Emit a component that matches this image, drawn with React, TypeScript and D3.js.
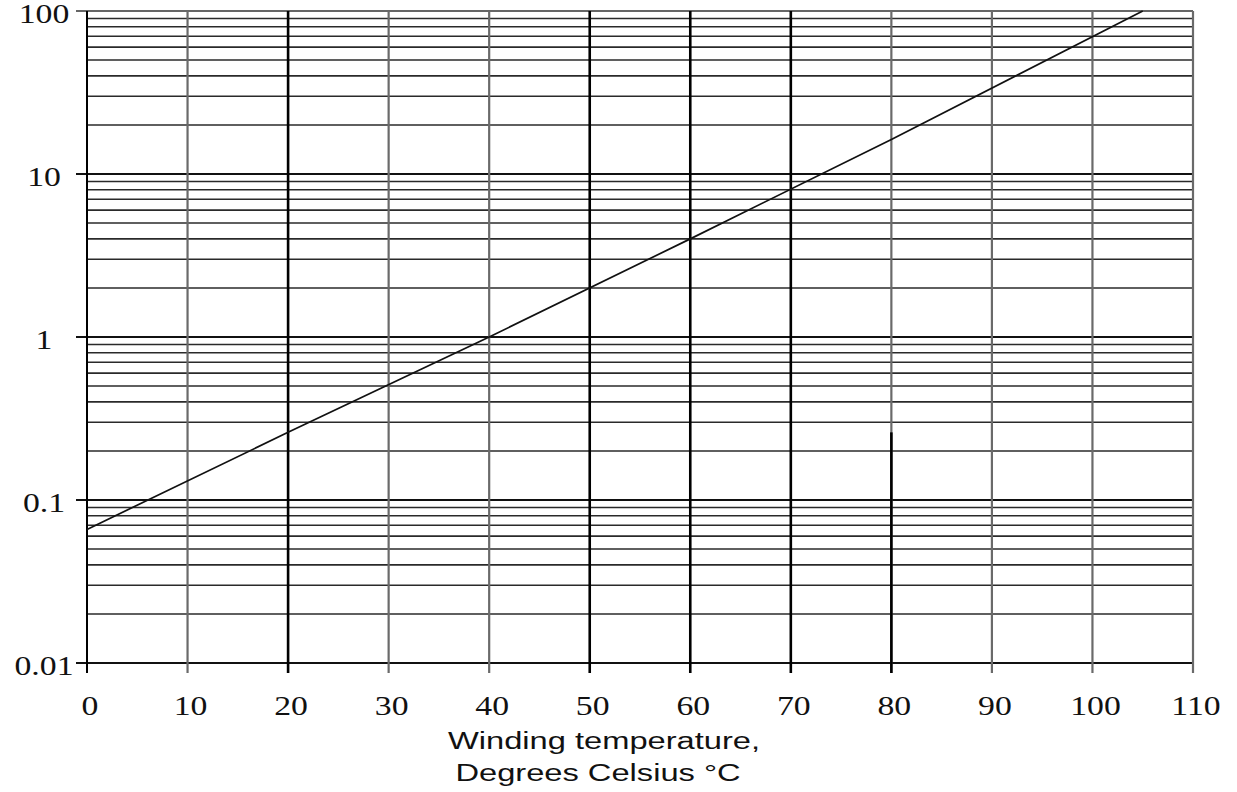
import React from 'react';
import * as d3 from 'd3';

// x axis: winding temperature, °C
const xTicks = [0, 10, 20, 30, 40, 50, 60, 70, 80, 90, 100, 110];
// y axis: log decades and their labels
const yDecades = [0.01, 0.1, 1, 10, 100];
const yLabels = ['0.01', '0.1', '1', '10', '100'];
// curve (temperature, value)
const curveT = [0, 20, 40, 60, 80, 105];
const curveV = [0.066, 0.26, 1.0, 4.0, 16.3, 100];

const width = 1237;
const height = 792;
const margin = { top: 11, right: 44, bottom: 129, left: 87 };

const heavyX = [0, 20, 50, 60, 70];

export default function App() {
  const innerW = width - margin.left - margin.right;
  const innerH = height - margin.top - margin.bottom;

  const x = d3.scaleLinear().domain([0, 110]).range([margin.left, margin.left + innerW]);
  const y = d3.scaleLog().domain([0.01, 100]).range([margin.top + innerH, margin.top]);

  // minor grid: 2..9 in each decade
  const minor: number[] = [];
  yDecades.slice(0, -1).forEach((d) => {
    for (let k = 2; k <= 9; k++) minor.push(+(d * k).toPrecision(3));
  });

  const line = d3
    .line<number>()
    .x((_, i) => x(curveT[i]))
    .y((v) => y(v));

  const x0 = x(0);
  const x1 = x(110);
  const yb = y(0.01);
  const yt = y(100);

  const serif = "'Liberation Serif', 'DejaVu Serif', serif";
  const sans = "'Liberation Sans', Arial, sans-serif";

  return (
    <svg width={width} height={height} style={{ position: 'absolute', left: 0, top: 0, background: '#fff' }}>
      {/* horizontal grid */}
      {minor.map((v) => (
        <line key={'m' + v} x1={x0} x2={x1} y1={y(v)} y2={y(v)} stroke="#2a2a2a" strokeWidth={1.6} />
      ))}
      {yDecades.map((v) => (
        <line key={'d' + v} x1={x0 - 11} x2={x1} y1={y(v)} y2={y(v)} stroke={v === 100 ? '#666' : '#111'} strokeWidth={2} />
      ))}

      {/* vertical grid */}
      {xTicks.map((t) => {
        const heavy = heavyX.includes(t);
        return (
          <line
            key={'v' + t}
            x1={x(t)}
            x2={x(t)}
            y1={yt}
            y2={yb + 10}
            stroke={heavy ? '#000' : '#6a6a6a'}
            strokeWidth={heavy ? (t === 0 ? 2 : 2.6) : 2.2}
          />
        );
      })}
      <line x1={x(80)} x2={x(80)} y1={y(0.26)} y2={yb + 10} stroke="#000" strokeWidth={2.6} />

      {/* curve */}
      <path d={line(curveV) || ''} fill="none" stroke="#111" strokeWidth={1.7} />

      {/* y labels */}
      {yDecades.map((v, i) => (
        <text
          key={'yl' + v}
          transform={`translate(44, ${y(v) + 6}) scale(1.25, 1)`}
          textAnchor="middle"
          dominantBaseline="middle"
          fontFamily={serif}
          fontSize={27}
          fill="#111"
        >
          {yLabels[i]}
        </text>
      ))}

      {/* x labels */}
      {xTicks.map((t) => (
        <text
          key={'xl' + t}
          transform={`translate(${x(t) + 3}, 709) scale(1.25, 1)`}
          textAnchor="middle"
          dominantBaseline="middle"
          fontFamily={serif}
          fontSize={27}
          fill="#111"
        >
          {t}
        </text>
      ))}

      {/* axis title */}
      <text
        transform={`translate(604, 743) scale(1.42, 1)`}
        textAnchor="middle"
        dominantBaseline="middle"
        fontFamily={sans}
        fontSize={23}
        fill="#111"
      >
        Winding temperature,
      </text>
      <text
        transform={`translate(598, 775) scale(1.42, 1)`}
        textAnchor="middle"
        dominantBaseline="middle"
        fontFamily={sans}
        fontSize={23}
        fill="#111"
      >
        Degrees Celsius °C
      </text>
    </svg>
  );
}
